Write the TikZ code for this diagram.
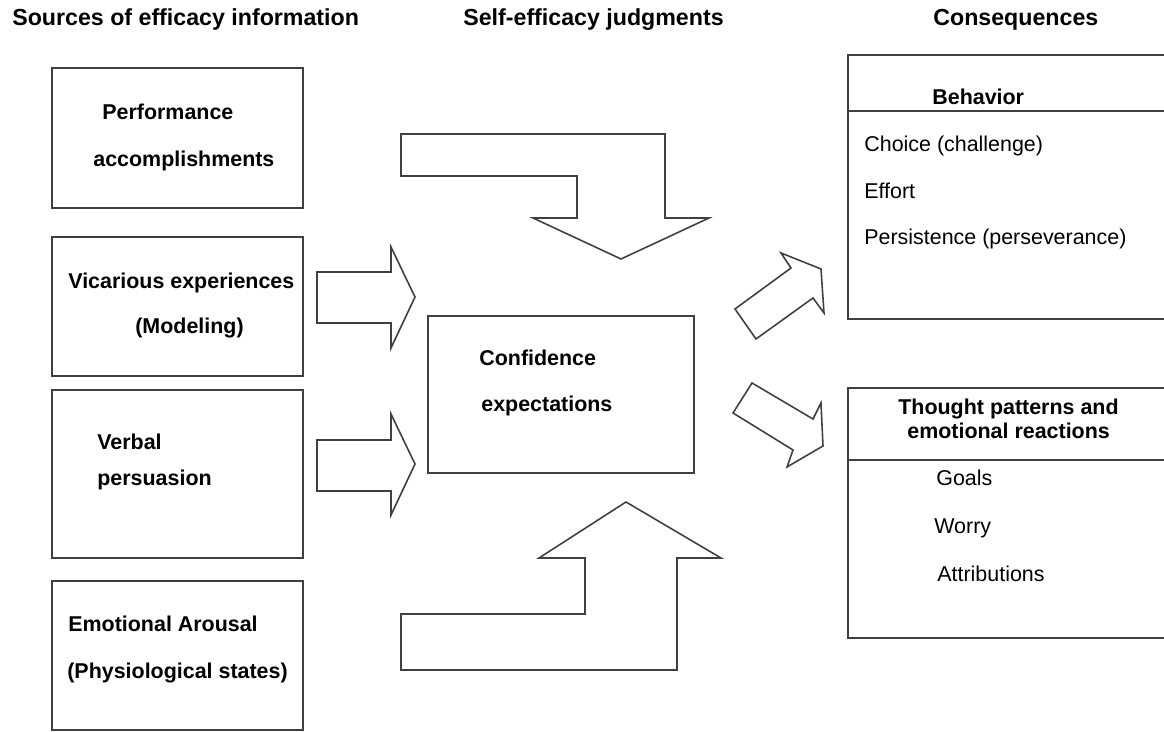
\documentclass[tikz,border=0pt]{standalone}
\usepackage{fontspec}
\setmainfont{Liberation Sans}

\tikzset{
  box/.style={draw=black!75, line width=0.9pt, inner sep=0pt},
  txt/.style={anchor=west, inner sep=0pt, text height=0.72em, text depth=0pt,
    font=\fontsize{12.2}{14}\selectfont},
  btxt/.style={txt, font=\bfseries\fontsize{12.2}{14}\selectfont},
  htxt/.style={txt, font=\bfseries\fontsize{13.2}{15}\selectfont},
  blockarrow/.style={draw=black!75, line width=0.9pt, line join=miter},
}

\begin{document}
\begin{tikzpicture}[x=0.02cm, y=-0.02cm]
        \useasboundingbox (0,0) rectangle (1164,732);
        \clip (0,0) rectangle (1164,732);

        % column headings
        \node[htxt] (hsrc) at (12, 19) {Sources of efficacy information};
        \node[htxt] (hjudg) at (463, 19) {Self-efficacy judgments};
        \node[htxt] (hcons) at (933, 19) {Consequences};

        % sources
        \node[box, minimum width=5.02cm, minimum height=2.8cm] (perf) at (177.5, 138) {};
        \node[box, minimum width=5.02cm, minimum height=2.78cm] (vic) at (177.5, 306.5) {};
        \node[box, minimum width=5.02cm, minimum height=3.36cm] (verb) at (177.5, 474) {};
        \node[box, minimum width=5.02cm, minimum height=2.98cm] (emo) at (177.5, 655.5) {};

        \node[btxt] (perfa) at (102, 113) {Performance};
        \node[btxt] (perfb) at (93, 160) {accomplishments};
        \node[btxt] (vica) at (68, 282) {Vicarious experiences};
        \node[btxt] (vicb) at (135, 327) {(Modeling)};
        \node[btxt] (verba) at (97, 443) {Verbal};
        \node[btxt] (verbb) at (97, 479) {persuasion};
        \node[btxt] (emoa) at (68, 625) {Emotional Arousal};
        \node[btxt] (emob) at (67, 672) {(Physiological states)};

        % judgment
        \node[box, minimum width=5.32cm, minimum height=3.14cm] (conf) at (561, 394.5) {};
        \node[btxt] (confa) at (479, 359) {Confidence};
        \node[btxt] (confb) at (481, 405) {expectations};

        % consequences
        \node[box, minimum width=6.44cm, minimum height=5.28cm] (behav) at (1009, 187) {};
        \draw[box] (behav.west |- 0,111) -- (behav.east |- 0,111);
        \node[btxt] (behava) at (932, 98) {Behavior};
        \node[txt] (behavb) at (864, 145) {Choice (challenge)};
        \node[txt] (behavc) at (864, 192) {Effort};
        \node[txt] (behavd) at (864, 238) {Persistence (perseverance)};

        \node[box, minimum width=6.44cm, minimum height=5cm] (thought) at (1009, 513) {};
        \draw[box] (thought.west |- 0,460) -- (thought.east |- 0,460);
        \node[btxt] (thoughta) at (898, 408) {Thought patterns and};
        \node[btxt] (thoughtb) at (907, 432) {emotional reactions};
        \node[txt] (thoughtc) at (936, 479) {Goals};
        \node[txt] (thoughtd) at (934, 527) {Worry};
        \node[txt] (thoughte) at (937, 575) {Attributions};

        % block arrows
        \draw[blockarrow] (401,134) -- (665,134) -- (665,218) -- (709,218) -- (621,259)
          -- (533,218) -- (577,218) -- (577,176) -- (401,176) -- cycle;
        \draw[blockarrow] (401,670) -- (677,670) -- (677,558) -- (721,558) -- (626,502)
          -- (539,558) -- (585,558) -- (585,614) -- (401,614) -- cycle;
        \draw[blockarrow] (317,272) -- (391,272) -- (391,247) -- (415,297) -- (391,348)
          -- (391,323) -- (317,323) -- cycle;
        \draw[blockarrow] (317,440) -- (391,440) -- (391,414) -- (415,464) -- (391,515)
          -- (391,491) -- (317,491) -- cycle;
        \draw[blockarrow] (735,309) -- (791,268) -- (781,253) -- (821,269) -- (824,313)
          -- (813,298) -- (756,339) -- cycle;
        \draw[blockarrow] (752,383) -- (813,419) -- (821,403) -- (823,446) -- (787,467)
          -- (793,450) -- (733,413) -- cycle;
\end{tikzpicture}
\end{document}
